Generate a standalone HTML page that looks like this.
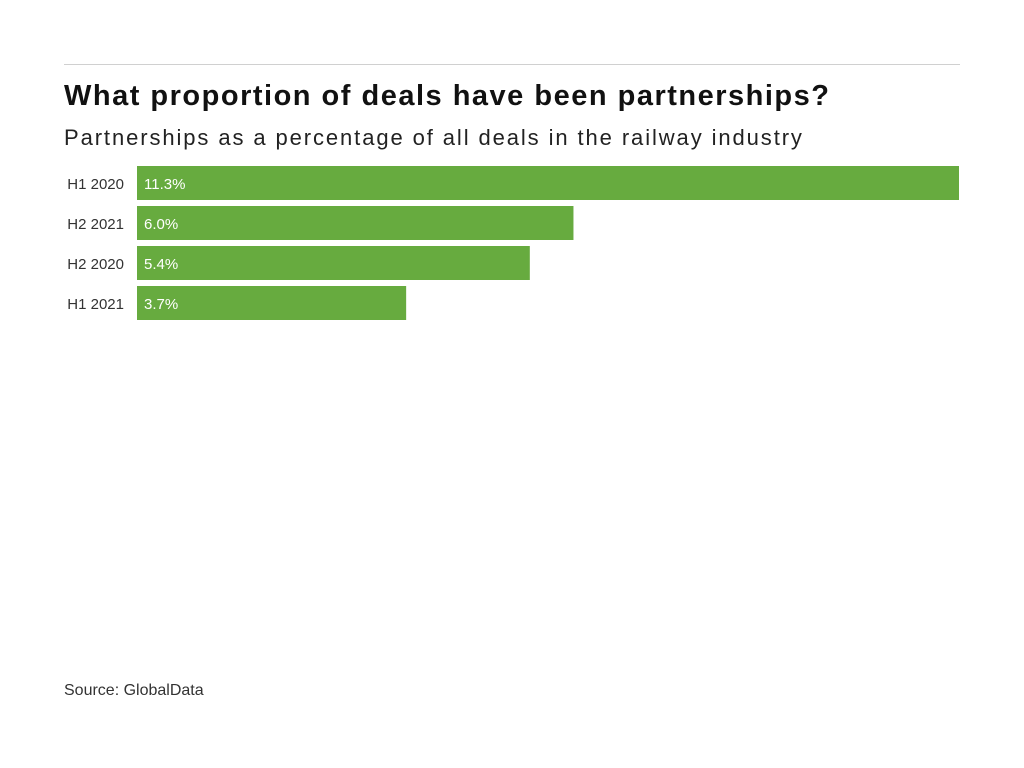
<!DOCTYPE html>
<html><head><meta charset="utf-8"><style>
body{margin:0;width:1024px;height:768px;background:#fff;font-family:"Liberation Sans",sans-serif;position:relative;overflow:hidden}
.rule{position:absolute;left:64px;top:64px;width:896px;height:1px;background:#d0d0d0}
h1{position:absolute;left:64px;top:80px;margin:0;font-size:29px;font-weight:bold;color:#111;letter-spacing:1.5px;white-space:nowrap}
h2{position:absolute;left:64px;top:125px;margin:0;font-size:22px;font-weight:normal;color:#222;letter-spacing:1.9px;white-space:nowrap}
.src{position:absolute;left:64px;top:682px;font-size:16px;color:#333}
svg{position:absolute;left:0;top:0}
</style></head><body>
<div class="rule"></div>
<h1>What proportion of deals have been partnerships?</h1>
<h2>Partnerships as a percentage of all deals in the railway industry</h2>
<svg id="chart" width="1024" height="768"></svg>
<div class="src">Source: GlobalData</div>
<script>
const categories=["H1 2020","H2 2021","H2 2020","H1 2021"];
const values=[11.3,6.0,5.4,3.7];
const labels=["11.3%","6.0%","5.4%","3.7%"];
const svg=document.getElementById('chart');
const NS="http://www.w3.org/2000/svg";
const x0=137,x1=959,maxV=11.3;
const xs=v=>x0+(v/maxV)*(x1-x0);
const ys=i=>166+i*40;
categories.forEach((c,i)=>{
  const r=document.createElementNS(NS,'rect');
  r.setAttribute('x',x0);r.setAttribute('y',ys(i));
  r.setAttribute('width',xs(values[i])-x0);r.setAttribute('height',34);
  r.setAttribute('fill','#67ab3f');
  
  
  svg.appendChild(r);
  const t=document.createElementNS(NS,'text');
  t.setAttribute('x',124);t.setAttribute('y',ys(i)+23);
  t.setAttribute('text-anchor','end');t.setAttribute('font-size','15');t.setAttribute('fill','#333');
  t.setAttribute('font-family','Liberation Sans, sans-serif');
  t.textContent=c;
  
  
  svg.appendChild(t);
  const v=document.createElementNS(NS,'text');
  v.setAttribute('x',x0+7);v.setAttribute('y',ys(i)+23);
  v.setAttribute('font-size','15');v.setAttribute('fill','#fff');
  v.setAttribute('font-family','Liberation Sans, sans-serif');
  v.textContent=labels[i];
  
  
  svg.appendChild(v);
});
</script>
</body></html>
